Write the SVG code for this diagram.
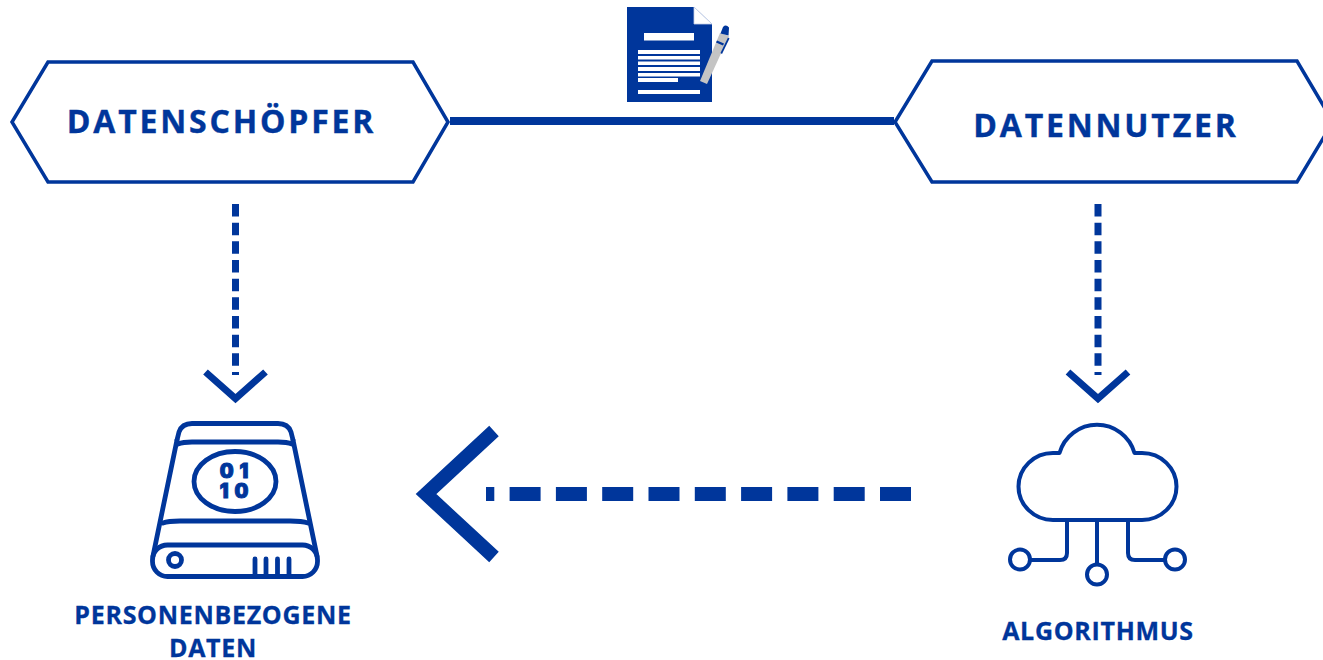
<svg xmlns="http://www.w3.org/2000/svg" width="1323" height="660" viewBox="0 0 1323 660">
<style>
.hex{fill:#fff;stroke:#00369b;stroke-width:3.500}
.title{font-family:"Open Sans","Noto Sans",sans-serif;font-weight:700;font-size:32px;letter-spacing:2.800px;fill:#00369b;stroke:#00369b;stroke-width:0.400;text-anchor:middle}
.label{font-family:"Open Sans","Noto Sans",sans-serif;font-weight:700;font-size:25px;letter-spacing:0.700px;fill:#00369b;stroke:#00369b;stroke-width:0.300;text-anchor:middle}
.bits{font-family:Inter,"Open Sans",sans-serif;font-weight:900;font-size:19.500px;letter-spacing:6px;fill:#00369b;stroke:#00369b;stroke-width:1;text-anchor:middle}
.ln{fill:none;stroke:#00369b;stroke-width:4.800;stroke-linecap:round;stroke-linejoin:round}
.ln4{fill:none;stroke:#00369b;stroke-width:4;stroke-linecap:round;stroke-linejoin:round}
.w{fill:#fff}
.b{fill:#00369b}
</style>
<rect width="1323" height="660" fill="#fff"/>
<g id="connectors">
<line x1="450" y1="121" x2="894" y2="121" stroke="#00369b" stroke-width="8"/>
<line x1="235.500" y1="204" x2="235.500" y2="375" stroke="#00369b" stroke-width="7" stroke-dasharray="12.500 6.170"/>
<path d="M205.500 372L235.500 398.500L265.500 372" fill="none" stroke="#00369b" stroke-width="7"/>
<line x1="1098" y1="204" x2="1098" y2="375" stroke="#00369b" stroke-width="7" stroke-dasharray="12.500 6.170"/>
<path d="M1068 372L1098 398.500L1128 372" fill="none" stroke="#00369b" stroke-width="7"/>
<line x1="911" y1="494" x2="486" y2="494" stroke="#00369b" stroke-width="14" stroke-dasharray="31 15.300"/>
<path d="M494 431L426 494L494 557" fill="none" stroke="#00369b" stroke-width="14"/>
</g>
<g id="datenschoepfer">
<polygon class="hex" points="48,62 413,62 448,122 413,182 48,182 12,122"/>
<text class="title" x="221.500" y="132.500">DATENSCHÖPFER</text>
</g>
<g id="datennutzer">
<polygon class="hex" points="932,61 1297,61 1333,122 1297,182 932,182 895,122"/>
<text class="title" x="1106" y="136.500">DATENNUTZER</text>
</g>
<g id="vertrag">
<path class="b" d="M627 7H694L712 24V102H627Z"/>
<path d="M694 7L712 24H694Z" fill="#fff" stroke="#c5d0e8" stroke-width="0.800"/>
<rect class="w" x="644" y="33" width="50" height="7.500"/>
<rect class="w" x="638" y="50" width="62" height="4"/>
<rect class="w" x="638" y="56" width="62" height="3.500"/>
<rect class="w" x="638" y="61.500" width="62" height="3.500"/>
<rect class="w" x="638" y="67" width="62" height="4"/>
<rect class="w" x="638" y="73" width="62" height="3.500"/>
<rect class="w" x="638" y="78" width="40" height="4"/>
<rect class="w" x="638" y="90" width="62" height="4"/>
<path d="M720 33L729 36L707 84L700 81Z" fill="#c4c4c4"/>
<path d="M720.500 33.500L723 27Q726 24 729 27.500L728.500 35.500Z" class="b"/>
<path d="M717 40.500L724 43.500L723 45.500L716 42.500Z" class="b"/>
<path d="M728 37.500L729.500 38.500L722 54L720.500 53Z" class="b"/>
</g>
<g id="personenbezogene-daten">
<path class="ln" d="M177 440L179 432Q182 423.500 192 423.500H278Q288 423.500 291 432L293 440"/>
<path class="ln" d="M178 444Q183 442 192 442H278Q287 442 292 444"/>
<path class="ln" d="M177 440L153 556"/>
<path class="ln" d="M293 440L317 556"/>
<path class="ln" d="M163 523Q168 521 180 521H290Q302 521 308 523"/>
<ellipse class="ln" cx="235" cy="481.500" rx="41" ry="30"/>
<rect class="ln" x="152.500" y="545" width="165" height="31.500" rx="15" ry="15"/>
<circle class="ln" cx="175" cy="560" r="6.500"/>
<path class="ln" d="M255 559V575M266 559V575M277.500 559V575M289 559V575"/>
<text class="bits"><tspan x="237" y="478">01</tspan><tspan x="237" y="498">10</tspan></text>
<text class="label"><tspan x="213" y="623.500">PERSONENBEZOGENE</tspan><tspan x="213" y="656.500">DATEN</tspan></text>
</g>
<g id="algorithmus">
<path class="ln4" d="M1053 520H1142A34.500 33.500 0 0 0 1142 453H1134.500A39 39 0 0 0 1059.500 453H1053A34.500 33.500 0 0 0 1053 520Z"/>
<path class="ln4" d="M1067 520V553Q1067 560 1060 560H1031"/>
<path class="ln4" d="M1128 520V553Q1128 560 1135 560H1164"/>
<path class="ln4" d="M1097 520V564"/>
<circle class="ln4" cx="1020" cy="559.500" r="10"/>
<circle class="ln4" cx="1175" cy="559.500" r="10"/>
<circle class="ln4" cx="1097" cy="574.500" r="10"/>
<text class="label" x="1098" y="640">ALGORITHMUS</text>
</g>
</svg>
